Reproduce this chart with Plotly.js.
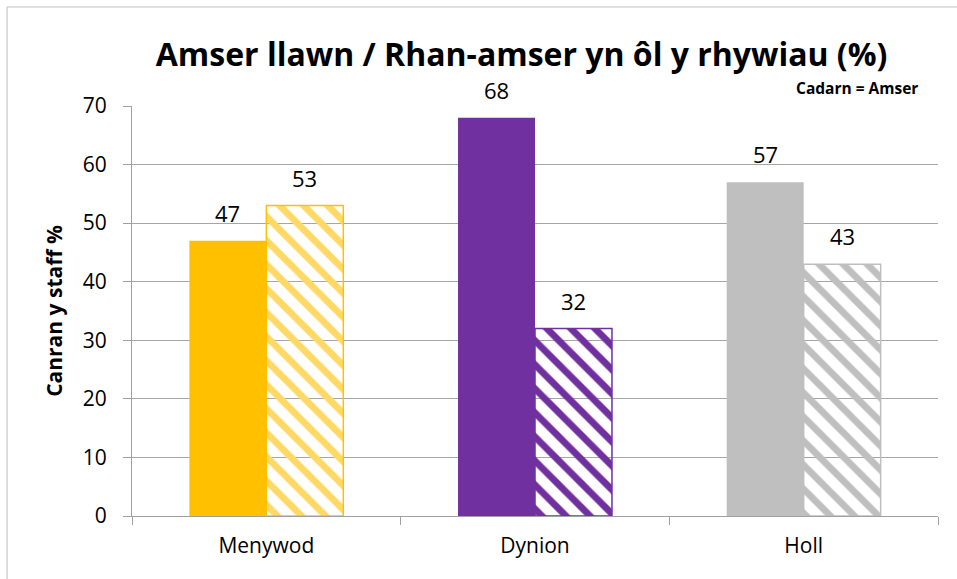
<!DOCTYPE html>
<html>
<head>
<meta charset="utf-8">
<script src="https://cdn.plot.ly/plotly-3.0.1.min.js"></script>
<style>html,body{margin:0;padding:0;background:#fff;}#chart{width:957px;height:579px;}</style>
</head>
<body>
<div id="chart"></div>
<script>
const categories = ['Menywod', 'Dynion', 'Holl'];
const fullTime = [47, 68, 57];
const partTime = [53, 32, 43];
const solidColors = ['#FFC000', '#7030A0', '#BFBFBF'];
const stripeColors = ['#FFD966', '#7030A0', '#BFBFBF'];
const stripeBorders = ['#FFC000', '#7030A0', '#BFBFBF'];
const yTicks = [0, 10, 20, 30, 40, 50, 60, 70];

const FONT = 'Open Sans, Liberation Sans, sans-serif';
const W = 957, H = 579;
const M = {l: 132, r: 19, t: 106, b: 63};
const plotW = W - M.l - M.r;
const BARGAP = 0.427;
const barPx = plotW / categories.length * (1 - BARGAP) / 2;

const traces = [
  {
    type: 'bar', name: 'Amser llawn', x: categories, y: fullTime,
    marker: {color: solidColors, line: {width: 0}},
    hoverinfo: 'x+y'
  },
  {
    type: 'bar', name: 'Rhan-amser', x: categories, y: partTime,
    marker: {
      color: stripeColors,
      line: {color: stripeBorders, width: 1.5},
      pattern: {shape: '\\', fgcolor: stripeColors, bgcolor: '#ffffff', size: 17, solidity: 0.4, fillmode: 'replace'}
    },
    hoverinfo: 'x+y'
  }
];

const labelAnn = [];
[[fullTime, -1], [partTime, 1]].forEach(([vals, side]) => {
  vals.forEach((v, i) => {
    labelAnn.push({
      x: categories[i], y: v, xref: 'x', yref: 'y', text: String(v), showarrow: false,
      xshift: side * barPx / 2, yshift: 28, xanchor: 'center', yanchor: 'middle',
      font: {family: FONT, size: 22, color: '#000'}
    });
  });
});

const layout = {
  width: W, height: H,
  margin: M,
  paper_bgcolor: '#fff', plot_bgcolor: '#fff',
  showlegend: false,
  barmode: 'group', bargap: BARGAP, bargroupgap: 0,
  font: {family: FONT, size: 21, color: '#000'},
  title: {
    text: '<b>Amser llawn / Rhan-amser yn ôl y rhywiau (%)</b>',
    font: {family: FONT, size: 32, color: '#000'},
    x: 0.545, xanchor: 'center', y: 0.905, yanchor: 'middle'
  },
  xaxis: {
    type: 'category', showgrid: false, showline: true, linecolor: '#A0A0A0', linewidth: 1,
    ticks: 'outside', tickson: 'boundaries', ticklen: 8, tickcolor: '#A0A0A0',
    ticklabelstandoff: 11,
    tickfont: {family: FONT, size: 21, color: '#000'}, zeroline: false
  },
  yaxis: {
    range: [0, 70], tickvals: yTicks, ticktext: yTicks.map(String),
    showgrid: true, gridcolor: '#A6A6A6', gridwidth: 1,
    showline: true, linecolor: '#A0A0A0', linewidth: 1,
    ticks: 'outside', ticklen: 8, tickcolor: '#A0A0A0',
    ticklabelstandoff: 12,
    tickfont: {family: FONT, size: 21, color: '#000'}, zeroline: false,
    title: {text: '<b>Canran y staff %</b>', font: {family: FONT, size: 21, color: '#000'}, standoff: 14}
  },
  annotations: labelAnn.concat([
    {text: '<b>Cadarn = Amser</b>', xref: 'paper', yref: 'paper', x: 0.978, y: 1.044, xanchor: 'right', yanchor: 'middle',
     showarrow: false, font: {family: FONT, size: 15.5, color: '#000'}}
  ]),
  shapes: [
    {type: 'line', xref: 'paper', yref: 'paper', x0: -0.155, x1: 1.1, y0: 1.2415, y1: 1.2415, line: {color: '#BFBFBF', width: 1}},
    {type: 'line', xref: 'paper', yref: 'paper', x0: -0.155, x1: -0.155, y0: 1.2415, y1: -0.2, line: {color: '#BFBFBF', width: 1}}
  ]
};

Plotly.newPlot('chart', traces, layout, {displayModeBar: false, staticPlot: true});
</script>
</body>
</html>
